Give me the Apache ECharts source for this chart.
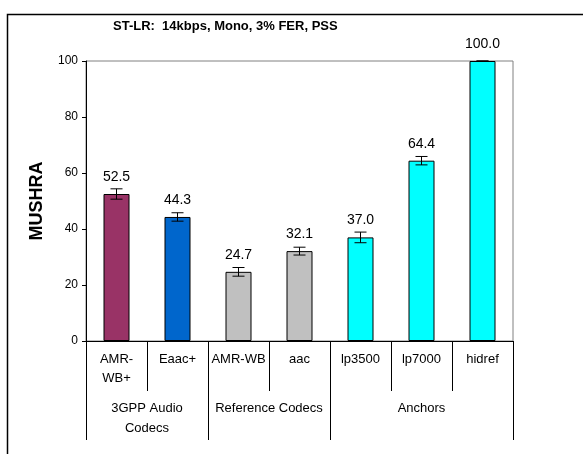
<!DOCTYPE html>
<html><head><meta charset="utf-8">
<script src="https://cdn.jsdelivr.net/npm/echarts@6/dist/echarts.min.js"></script>
<style>html,body{margin:0;padding:0;background:#fff}#c{width:583px;height:454px}</style>
</head><body><div id="c"></div>
<script>
var categories = ['AMR-\nWB+', 'Eaac+', 'AMR-WB', 'aac', 'lp3500', 'lp7000', 'hidref'];
var values = [52.5, 44.3, 24.7, 32.1, 37.0, 64.4, 100.0];
var errors = [1.85, 1.5, 1.55, 1.4, 1.9, 1.5, 0];
var barColors = ['#993366', '#0066CC', '#C0C0C0', '#C0C0C0', '#00FFFF', '#00FFFF', '#00FFFF'];
var groupNames = ['3GPP Audio\nCodecs', 'Reference Codecs', 'Anchors'];
var groupSizes = [2, 2, 3];
var yTicks = [0, 20, 40, 60, 80, 100];

var bounds = [0], centers = [];
groupSizes.forEach(function (s, i) { var b = bounds[i]; bounds.push(b + s); centers.push(b + s / 2); });

var font = 'Liberation Sans, Arial, sans-serif';
var chart = echarts.init(document.getElementById('c'));
chart.setOption({
  animation: false,
  title: {
    text: 'ST-LR:  14kbps, Mono, 3% FER, PSS',
    left: 113, top: 20, padding: 0,
    textStyle: { fontFamily: font, fontSize: 13, fontWeight: 'bold', color: '#000' }
  },
  graphic: [{
    type: 'rect', shape: { x: 7.5, y: 14.5, width: 700, height: 600 },
    style: { fill: 'none', stroke: '#000', lineWidth: 1.5 }, silent: true
  }],
  grid: { left: 86, right: 70, top: 61, bottom: 113, show: true, borderColor: '#808080', borderWidth: 1 },
  xAxis: [{
    type: 'category', data: categories, position: 'bottom',
    axisLine: { lineStyle: { color: '#000', width: 1 } },
    axisTick: { show: true, interval: 0, alignWithLabel: false, length: 50, lineStyle: { color: '#000' } },
    axisLabel: { interval: 0, margin: 9, fontFamily: font, fontSize: 13, color: '#000', lineHeight: 19 }
  }, {
    type: 'value', min: 0, max: bounds[bounds.length - 1], position: 'bottom',
    axisLine: { show: false }, splitLine: { show: false },
    axisTick: { show: true, customValues: bounds, length: 99, lineStyle: { color: '#000' } },
    axisLabel: {
      customValues: centers, margin: 57, fontFamily: font, fontSize: 13, color: '#000', lineHeight: 20,
      formatter: function (v) { var i = centers.indexOf(v); return i >= 0 ? groupNames[i] : ''; }
    }
  }],
  yAxis: {
    type: 'value', min: yTicks[0], max: yTicks[yTicks.length - 1], interval: yTicks[1] - yTicks[0],
    name: 'MUSHRA', nameLocation: 'middle', nameGap: 40, nameRotate: 90,
    nameTextStyle: { fontFamily: font, fontSize: 18, fontWeight: 'bold', color: '#000' },
    axisLine: { show: true, lineStyle: { color: '#000' } },
    axisTick: { show: true, length: 4, lineStyle: { color: '#000' } },
    axisLabel: { margin: 8, fontFamily: font, fontSize: 12, color: '#000' },
    splitLine: { show: false }
  },
  series: [{
    type: 'bar', xAxisIndex: 0, barWidth: 26,
    data: values.map(function (v, i) {
      return { value: v, itemStyle: { color: barColors[i], borderColor: '#000', borderWidth: 1 } };
    }),
    label: {
      show: true, position: 'top', distance: 10, fontFamily: font, fontSize: 14, color: '#000',
      formatter: function (p) { return p.value.toFixed(1); }
    },
    z: 2
  }, {
    type: 'custom', xAxisIndex: 0, z: 3,
    data: values.map(function (v, i) { return [i, v - errors[i], v + errors[i]]; }),
    renderItem: function (params, api) {
      var x = api.value(0);
      var lo = api.coord([x, api.value(1)]);
      var hi = api.coord([x, api.value(2)]);
      var hw = 6;
      var st = { stroke: '#000', lineWidth: 1 };
      return { type: 'group', children: [
        { type: 'line', shape: { x1: lo[0], y1: lo[1], x2: hi[0], y2: hi[1] }, style: st },
        { type: 'line', shape: { x1: lo[0] - hw, y1: lo[1], x2: lo[0] + hw, y2: lo[1] }, style: st },
        { type: 'line', shape: { x1: hi[0] - hw, y1: hi[1], x2: hi[0] + hw, y2: hi[1] }, style: st }
      ] };
    }
  }]
});
</script></body></html>
